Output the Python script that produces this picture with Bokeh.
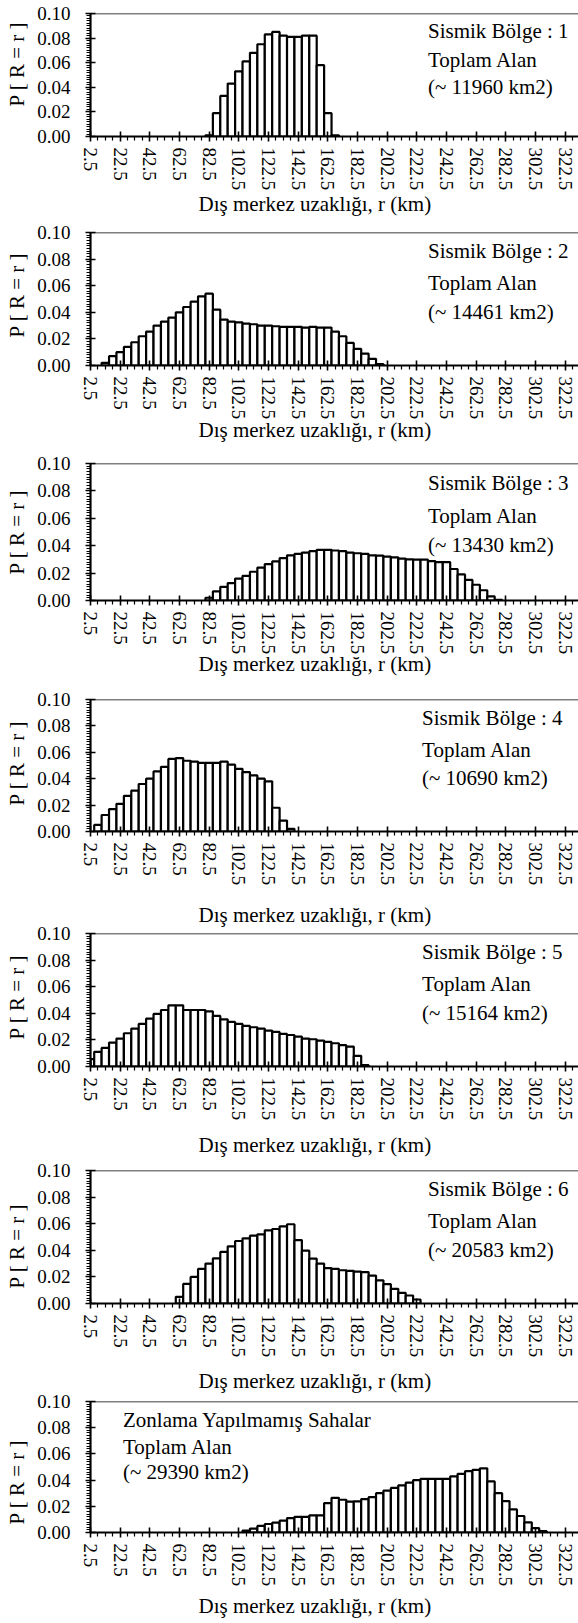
import numpy as np
from bokeh.plotting import figure
from bokeh.layouts import column
from bokeh.models import FixedTicker, PrintfTickFormatter, Span, Label, Range1d, Title
from bokeh.embed import file_html
from bokeh.resources import INLINE

FONT = "Liberation Serif"

# ---------------- data ----------------
bin_width = 5.0
x_tick_values = [2.5, 22.5, 42.5, 62.5, 82.5, 102.5, 122.5, 142.5, 162.5,
                 182.5, 202.5, 222.5, 242.5, 262.5, 282.5, 302.5, 322.5]
y_tick_values = [0.00, 0.02, 0.04, 0.06, 0.08, 0.10]

x_title = "Dış merkez uzaklığı,  r (km)"
y_title = "P [ R = r ]"

p1_start = 82.5
p1_prob = [0.001, 0.019, 0.033, 0.043, 0.053, 0.061, 0.068, 0.075, 0.083, 0.085,
           0.082, 0.081, 0.081, 0.082, 0.082, 0.058, 0.019, 0.001]

p2_start = 12.5
p2_prob = [0.002, 0.007, 0.010, 0.014, 0.0175, 0.022, 0.0255, 0.030, 0.033, 0.036,
           0.040, 0.044, 0.048, 0.052, 0.054, 0.042, 0.0345, 0.033, 0.0325, 0.0315,
           0.031, 0.030, 0.030, 0.0295, 0.029, 0.029, 0.029, 0.0285, 0.029, 0.0285,
           0.0285, 0.0255, 0.022, 0.017, 0.0125, 0.009, 0.005, 0.001]

p3_start = 82.5
p3_prob = [0.002, 0.0066, 0.010, 0.0127, 0.016, 0.018, 0.021, 0.024, 0.0266, 0.0285,
           0.031, 0.033, 0.034, 0.035, 0.036, 0.037, 0.037, 0.0365, 0.036, 0.035,
           0.0345, 0.034, 0.033, 0.0327, 0.032, 0.0315, 0.0305, 0.030, 0.0298, 0.0298,
           0.0288, 0.028, 0.028, 0.023, 0.019, 0.015, 0.0115, 0.0075, 0.003, 0.0005]

p4_start = 7.5
p4_prob = [0.005, 0.0125, 0.017, 0.021, 0.027, 0.031, 0.036, 0.040, 0.0455, 0.049,
           0.055, 0.0556, 0.0536, 0.053, 0.052, 0.052, 0.052, 0.053, 0.0506, 0.0475,
           0.045, 0.0425, 0.040, 0.038, 0.018, 0.0083, 0.002]

p5_start = 2.5
p5_prob = [0.0055, 0.011, 0.014, 0.018, 0.021, 0.025, 0.0285, 0.032, 0.036, 0.0395,
           0.0425, 0.046, 0.046, 0.0425, 0.0425, 0.0425, 0.0415, 0.038, 0.0355, 0.0335,
           0.032, 0.0305, 0.0295, 0.0285, 0.027, 0.026, 0.0245, 0.0237, 0.0225, 0.021,
           0.0205, 0.0195, 0.0185, 0.0175, 0.016, 0.015, 0.008, 0.001]

p6_start = 62.5
p6_prob = [0.005, 0.0147, 0.020, 0.026, 0.030, 0.034, 0.0388, 0.043, 0.047, 0.049,
           0.051, 0.052, 0.055, 0.056, 0.058, 0.0596, 0.0477, 0.0397, 0.0338, 0.030,
           0.0266, 0.026, 0.025, 0.0246, 0.024, 0.0236, 0.021, 0.0174, 0.0145, 0.011,
           0.008, 0.006, 0.003]

p7_start = 107.5
p7_prob = [0.0015, 0.003, 0.005, 0.0065, 0.0075, 0.009, 0.011, 0.012, 0.012, 0.013,
           0.013, 0.0225, 0.0265, 0.025, 0.0235, 0.0238, 0.0255, 0.027, 0.030, 0.032,
           0.034, 0.036, 0.038, 0.040, 0.041, 0.041, 0.041, 0.041, 0.0428, 0.0448,
           0.0468, 0.0478, 0.049, 0.039, 0.030, 0.024, 0.0176, 0.0126, 0.0078, 0.0033,
           0.001]

region_titles = ["Sismik Bölge : 1", "Sismik Bölge : 2", "Sismik Bölge : 3",
                 "Sismik Bölge : 4", "Sismik Bölge : 5", "Sismik Bölge : 6",
                 "Zonlama  Yapılmamış Sahalar"]
area_line = "Toplam Alan"
area_values = ["(~ 11960 km2)", "(~ 14461 km2)", "(~ 13430 km2)", "(~ 10690 km2)",
               "(~ 15164 km2)", "(~ 20583 km2)", "(~ 29390 km2)"]

starts = [p1_start, p2_start, p3_start, p4_start, p5_start, p6_start, p7_start]
probs = [p1_prob, p2_prob, p3_prob, p4_prob, p5_prob, p6_prob, p7_prob]

# ---------------- layout (pixels, page coordinates) ----------------
PAGE_H = 1623
frame_top = [13, 232, 463, 699, 933, 1170, 1401]
frame_h = [123, 133, 137, 133, 134, 134, 132]
border_top = [13, 12, 12, 12, 12, 12, 12]
xtitle_standoff = [-4, -10, -12, 28, 18, 16, 8]
border_bottom = [86, 84, 84, 110, 100, 98, 90]
ytitle_center = [72, 70, 68, 68, 69, 57, 50]     # px above frame bottom
text_x = [230, 230, 230, 226, 226, 230, 24.4]    # km
text_y = [[0.086, 0.062, 0.0405]] * 6 + [[0.086, 0.065, 0.046]]

X_START, X_END = 2.5, 331.5
LEFT = 89
WIDTH = 578
minor_x = [v for v in np.arange(2.5, 335, 5.0) if v not in x_tick_values]
minor_y = [v for v in np.round(np.arange(0, 0.1001, 0.002), 3) if v not in y_tick_values]

figs = []
prev_bottom = 0
for k in range(7):
    H = border_top[k] + frame_h[k] + border_bottom[k]
    fig_top = frame_top[k] - border_top[k]
    m_top = fig_top - prev_bottom
    m_bottom = 0
    if k == 6:
        m_bottom = min(0, PAGE_H - (fig_top + H))
    prev_bottom = fig_top + H

    p = figure(width=WIDTH, height=H, output_backend="svg", toolbar_location=None,
               x_range=Range1d(X_START, X_END), y_range=Range1d(0, 0.1),
               min_border_left=LEFT, min_border_right=0,
               min_border_top=border_top[k], min_border_bottom=border_bottom[k],
               margin=(m_top, 0, m_bottom, 0))
    p.outline_line_color = None
    p.background_fill_alpha = 0
    p.border_fill_alpha = 0
    p.xgrid.visible = False
    p.ygrid.visible = False

    centers = starts[k] + bin_width * np.arange(len(probs[k]))
    p.vbar(x=centers, top=probs[k], bottom=0, width=bin_width,
           fill_color="white", line_color="black", line_width=2.2)

    p.add_layout(Span(location=0.1, dimension="width", line_color="black", line_width=1.6))

    xa = p.xaxis[0]
    xa.ticker = FixedTicker(ticks=x_tick_values, minor_ticks=minor_x)
    xa.major_label_orientation = "vertical"
    xa.major_label_standoff = 6
    ya = p.yaxis[0]
    ya.ticker = FixedTicker(ticks=y_tick_values, minor_ticks=minor_y)
    ya.formatter = PrintfTickFormatter(format="%.2f")
    ya.major_label_standoff = 15
    for ax in (xa, ya):
        ax.axis_line_width = 2.2
        ax.axis_line_color = "black"
        ax.major_tick_in = 5
        ax.major_tick_out = 5
        ax.minor_tick_in = 0
        ax.minor_tick_out = 4
        ax.major_tick_line_width = 1.6
        ax.minor_tick_line_width = 1.2
        ax.major_tick_line_color = "black"
        ax.minor_tick_line_color = "black"
        ax.major_label_text_font = FONT
        ax.major_label_text_font_size = "19px"
        ax.major_label_text_color = "black"

    # x-axis title
    p.add_layout(Title(text=x_title, align="left", offset=108, vertical_align="top",
                       standoff=xtitle_standoff[k], text_font=FONT,
                       text_font_size="21px", text_font_style="normal",
                       text_color="black"), "below")
    # y-axis title
    p.add_layout(Title(text=y_title, align="left", offset=ytitle_center[k] - 42,
                       vertical_align="top", standoff=8, text_font=FONT,
                       text_font_size="21px", text_font_style="normal",
                       text_color="black"), "left")
    # region texts
    for line, yy in zip([region_titles[k], area_line, area_values[k]], text_y[k]):
        p.add_layout(Label(x=text_x[k], y=yy, text=line, text_font=FONT,
                           text_font_size="21px", text_align="left",
                           text_baseline="middle", text_color="black"))
    figs.append(p)

layout = column(*figs, spacing=0, styles={"overflow": "hidden"})
open("out.html", "w").write(file_html(layout, INLINE))
